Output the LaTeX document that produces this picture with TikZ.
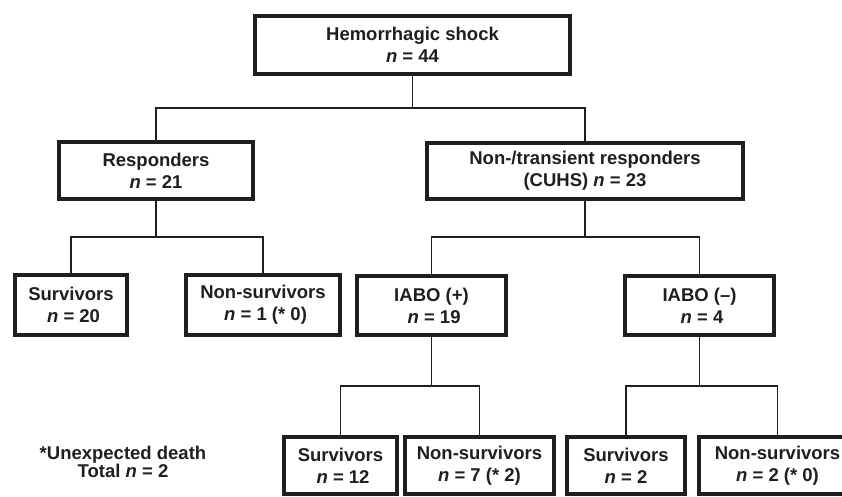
\documentclass[tikz,border=0pt]{standalone}
\usepackage{fontspec}
\setmainfont{Liberation Sans}

\begin{document}
\begin{tikzpicture}[x=1pt,y=-1pt,
	grp/.style={draw=black!88,text=black!88,line width=4.5pt,fill=white,align=center,inner sep=0pt,
		font=\fontsize{18.5}{22}\selectfont\bfseries},
	link/.style={draw=black!88,line width=1.8pt}]
	\useasboundingbox (0,0) rectangle (842,496);
	
	% first two levels
	\node (hs) [grp,minimum width=315,minimum height=58] at (412.5,45) {Hemorrhagic shock\\\textit{n} = 44};
	\node (resp) [grp,minimum width=194,minimum height=57] at (156,170.5) {Responders\\\textit{n} = 21};
	\node (cuhs) [grp,minimum width=316,minimum height=56] at (585,171) {Non-/transient responders\\(CUHS) \textit{n} = 23};
	
	% third level
	\node (surA) [grp,minimum width=112,minimum height=60] at (71,305) {Survivors\\\ \textit{n} = 20};
	\node (nsurA) [grp,minimum width=154,minimum height=60] at (263,305) {Non-survivors\\\ \textit{n} = 1 (* 0)};
	\node (iabop) [grp,minimum width=149,minimum height=59] at (431.5,305.5) {IABO (+)\\\ \textit{n} = 19};
	\node (iabom) [grp,minimum width=149,minimum height=59] at (699.5,305.5) {IABO (--)\\\ \textit{n} = 4};
	
	% bottom level
	\node (surB) [grp,minimum width=113,minimum height=57] at (340.5,465.5) {Survivors\\\ \textit{n} = 12};
	\node (nsurB) [grp,minimum width=149,minimum height=57] at (479.5,465.5) {Non-survivors\\\textit{n} = 7 (* 2)};
	\node (surC) [grp,minimum width=118,minimum height=57] at (626,465.5) {Survivors\\\textit{n} = 2};
	\node (nsurC) [grp,minimum width=157,minimum height=57] at (777.5,465.5) {Non-survivors\\\textit{n} = 2 (* 0)};
	
	\node (note) [align=center,text=black!88,font=\fontsize{18.5}{22}\selectfont\bfseries] at (123,462)
		{*Unexpected death\\[-4pt]Total \textit{n} = 2};
	
	% branch points
	\coordinate (b0) at (412.5,108);
	\coordinate (b1) at (156,237);
	\coordinate (b2) at (585,237);
	\coordinate (b3) at (431.5,386);
	\coordinate (b4) at (699.5,386);
	
	\draw [link] (hs.south) -- (b0) -| (resp.north);
	\draw [link] (b0) -| (cuhs.north);
	\draw [link] (resp.south) -- (b1) -| (surA.north);
	\draw [link] (b1) -| (nsurA.north);
	\draw [link] (cuhs.south) -- (b2) -| (iabop.north);
	\draw [link] (b2) -| (iabom.north);
	\draw [link] (iabop.south) -- (b3) -| (surB.north);
	\draw [link] (b3) -| (nsurB.north);
	\draw [link] (iabom.south) -- (b4) -| (surC.north);
	\draw [link] (b4) -| (nsurC.north);
	
\end{tikzpicture}
\end{document}
